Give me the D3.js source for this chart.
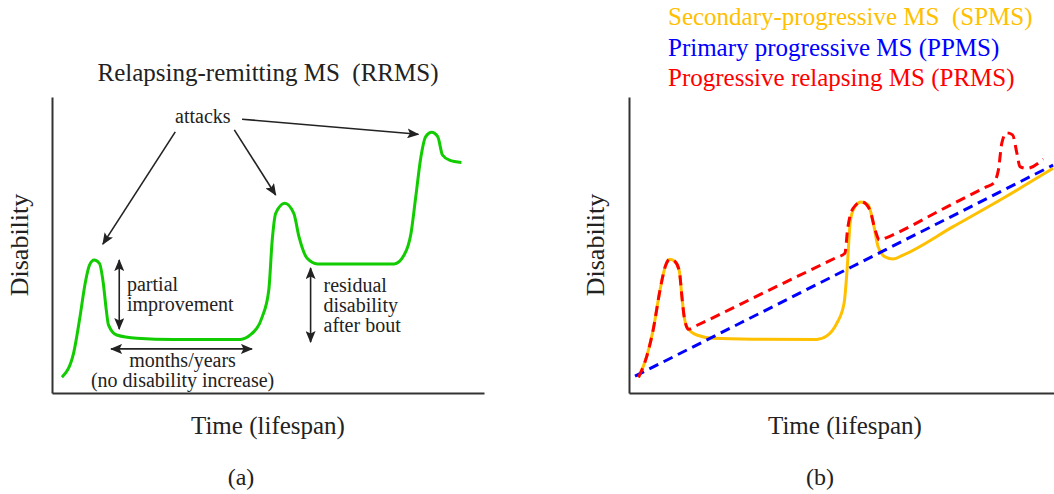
<!DOCTYPE html>
<html>
<head>
<meta charset="utf-8">
<script src="https://cdn.jsdelivr.net/npm/d3@7"></script>
<style>
  html, body { margin: 0; padding: 0; background: #fff; }
  svg { display: block; font-family: "Liberation Serif", "Times New Roman", serif; }
  text { white-space: pre; }
</style>
</head>
<body>
<svg id="chart" width="1054" height="494"></svg>
<script>
// ---- Panel (a): relapsing-remitting course ----
const rrmsTime =       [2.3, 5.0, 6.5, 7.7, 8.7, 9.8, 11.0, 11.9, 12.6, 13.1, 15.0, 19.7, 28.2, 43.7, 46.0, 48.8, 50.3, 51.1, 51.9, 54.0, 56.1, 57.3, 59.2, 61.6, 79.4, 81.7, 83.3, 84.4, 85.6, 86.7, 88.1, 89.5, 90.6, 92.2, 95.0];
const rrmsDisability = [5.3, 13.4, 25.8, 37.1, 43.2, 44.9, 43.8, 37.1, 28.0, 23.0, 19.6, 18.5, 18.1, 18.1, 19.6, 25.8, 34.8, 51.7, 60.7, 64.1, 60.7, 52.8, 45.5, 43.6, 43.6, 46.6, 54.0, 66.3, 79.8, 86.6, 88.1, 86.6, 80.4, 78.7, 77.9];

// ---- Panel (b): progressive courses ----
const spmsTime =       [2.2, 4.1, 5.6, 7.2, 8.4, 9.5, 10.7, 11.7, 12.2, 12.8, 13.4, 15.7, 19.6, 28.8, 43.5, 45.9, 48.2, 49.9, 50.6, 51.3, 52.0, 53.8, 55.5, 56.7, 57.8, 59.4, 61.3, 63.6, 75.2, 86.8, 98.4];
const spmsDisability = [5.3, 12.3, 21.3, 34.8, 42.7, 45.2, 44.4, 41.0, 33.7, 25.8, 22.4, 19.6, 18.5, 18.2, 18.1, 19.3, 23.5, 30.3, 41.6, 57.3, 61.8, 64.5, 63.5, 57.3, 49.4, 46.0, 45.3, 46.6, 56.2, 65.8, 75.9];

const ppmsTime =       [1.4, 57.5, 98.4];
const ppmsDisability = [5.7, 46.9, 77.0];

const prmsTime =       [2.2, 4.1, 5.6, 7.2, 8.4, 9.5, 10.7, 11.7, 12.2, 12.8, 13.8, 15.7, 32.0, 48.0, 50.1, 50.7, 52.0, 54.0, 55.9, 57.1, 58.1, 59.8, 62.1, 72.2, 83.0, 84.5, 85.7, 86.5, 87.6, 89.0, 90.0, 90.7, 92.3, 96.1];
const prmsDisability = [5.3, 12.3, 21.3, 34.8, 42.7, 45.2, 44.4, 41.0, 33.7, 25.8, 21.5, 22.8, 34.4, 45.7, 47.2, 55.1, 62.4, 64.6, 61.8, 55.1, 51.7, 52.5, 54.0, 61.7, 69.7, 70.8, 75.3, 84.4, 87.9, 87.2, 81.0, 76.5, 75.9, 79.0];

// ---- Text ----
const panelTitles = ["Relapsing-remitting MS  (RRMS)"];
const legendLabels = ["Secondary-progressive MS  (SPMS)", "Primary progressive MS (PPMS)", "Progressive relapsing MS (PRMS)"];
const legendColors = ["#FFC000", "#0000FF", "#FF0000"];
const xAxisTitle = "Time (lifespan)";
const yAxisTitle = "Disability";
const panelTags = ["(a)", "(b)"];

const svg = d3.select("#chart");
const ink = "#222";
const axisInk = "#333";

// Scales for both panels (shared vertical scale)
const y = d3.scaleLinear().domain([0, 100]).range([393, 97]);
const xA = d3.scaleLinear().domain([0, 100]).range([52, 483]);
const xB = d3.scaleLinear().domain([0, 100]).range([629, 1060]);

// Arrowhead marker
const defs = svg.append("defs");
defs.append("marker")
  .attr("id", "head")
  .attr("viewBox", "0 0 12 10")
  .attr("refX", 11).attr("refY", 5)
  .attr("markerWidth", 12).attr("markerHeight", 10)
  .attr("markerUnits", "userSpaceOnUse")
  .attr("orient", "auto-start-reverse")
  .append("path").attr("d", "M0,0 L12,5 L0,10 L2.5,5 Z").attr("fill", ink);

// Axes without ticks
function drawAxes(x, xEnd) {
  const xs = x.copy().range([x.range()[0], xEnd]);
  const gx = svg.append("g").attr("transform", `translate(0,${y(0)})`)
    .call(d3.axisBottom(xs).tickValues([]).tickSizeOuter(0));
  const gy = svg.append("g").attr("transform", `translate(${x(0)},0)`)
    .call(d3.axisLeft(y).tickValues([]).tickSizeOuter(0));
  [gx, gy].forEach(g => g.select(".domain").attr("stroke", axisInk).attr("stroke-width", 2));
}
drawAxes(xA, 484);
drawAxes(xB, 1054);

const curve = d3.curveMonotoneX;
function series(x, ts, ds, color, dash) {
  const pts = ts.map((t, i) => [t, ds[i]]);
  const line = d3.line().x(d => x(d[0])).y(d => y(d[1])).curve(curve);
  svg.append("path").datum(pts)
    .attr("d", line)
    .attr("fill", "none")
    .attr("stroke", color)
    .attr("stroke-width", 3)
    .attr("stroke-linejoin", "round")
    .attr("stroke-dasharray", dash || null);
}

// Panel (a)
series(xA, rrmsTime, rrmsDisability, "#11CC00");

// Panel (b): solid SPMS under dashed PPMS and PRMS
series(xB, spmsTime, spmsDisability, legendColors[0]);
series(xB, ppmsTime, ppmsDisability, legendColors[1], "10,6");
series(xB, prmsTime, prmsDisability, legendColors[2], "10,6");

// Annotations for panel (a)
function arrow(x1, y1, x2, y2, both) {
  svg.append("line")
    .attr("x1", xA(x1)).attr("y1", y(y1)).attr("x2", xA(x2)).attr("y2", y(y2))
    .attr("stroke", ink).attr("stroke-width", 1.6)
    .attr("marker-end", "url(#head)")
    .attr("marker-start", both ? "url(#head)" : null);
}
function label(lines, t, d, anchor, step) {
  const txt = svg.append("text")
    .attr("x", xA(t)).attr("y", y(d))
    .attr("text-anchor", anchor)
    .attr("font-size", 20).attr("fill", ink);
  lines.forEach((s, i) => txt.append("tspan").attr("x", xA(t)).attr("dy", i ? step : 0).text(s));
}

label(["attacks"], 35.0, 91.2, "middle", 0);
arrow(28.6, 88.2, 11.8, 50.3);
arrow(42.3, 88.9, 51.9, 66.9);
arrow(44.1, 92.5, 85.0, 87.4);

arrow(15.6, 44.9, 15.6, 21.6, true);
label(["partial", "improvement"], 17.4, 34.6, "start", 20);

arrow(60.0, 42.2, 60.0, 17.2, true);
label(["residual", "disability", "after bout"], 63.0, 34.2, "start", 20);

arrow(13.7, 14.9, 46.4, 14.9, true);
label(["months/years", "(no disability increase)"], 30.3, 8.9, "middle", 20);

// Titles and axis labels
svg.append("text").attr("x", 268).attr("y", 81).attr("text-anchor", "middle")
  .attr("font-size", 25).attr("fill", ink).text(panelTitles[0]);

legendLabels.forEach((s, i) => {
  svg.append("text").attr("x", 668).attr("y", 25 + i * 30.5)
    .attr("font-size", 25).attr("fill", legendColors[i]).text(s);
});

[[xA, 28, 268, 241], [xB, 604, 845, 820]].forEach(([x, yl, tx, tagx], i) => {
  svg.append("text")
    .attr("transform", `translate(${yl},${y(50)}) rotate(-90)`)
    .attr("text-anchor", "middle").attr("font-size", 26).attr("fill", ink)
    .text(yAxisTitle);
  svg.append("text").attr("x", tx).attr("y", 434).attr("text-anchor", "middle")
    .attr("font-size", 25).attr("fill", ink).text(xAxisTitle);
  svg.append("text").attr("x", tagx).attr("y", 485).attr("text-anchor", "middle")
    .attr("font-size", 24).attr("fill", ink).text(panelTags[i]);
});
</script>
</body>
</html>
